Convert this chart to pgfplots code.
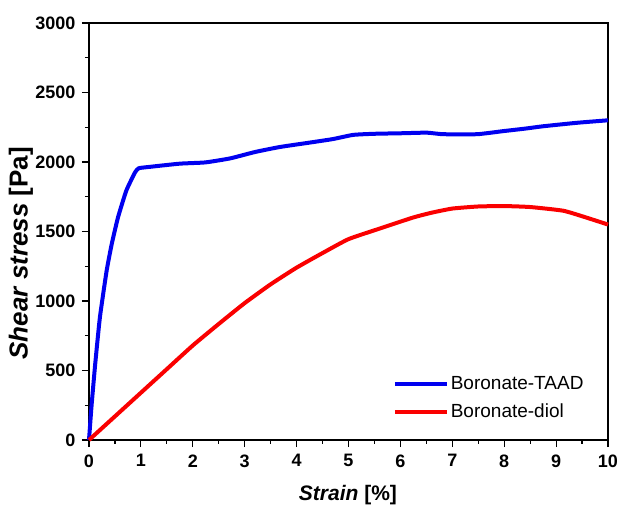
\documentclass[border=0pt]{standalone}
\usepackage{fontspec}
\setmainfont{Liberation Sans}
\usepackage{pgfplots}
\pgfplotsset{compat=1.18}
\definecolor{myblue}{RGB}{0,0,240}
\definecolor{myred}{RGB}{250,0,0}
\begin{document}
\begin{tikzpicture}
\path[use as bounding box] (-89pt,-66pt) rectangle (530pt,440pt);
\begin{axis}[
  scale only axis,
  width=519pt, height=417pt,
  xmin=0, xmax=10, ymin=0, ymax=3000,
  xtick={0,1,...,10}, ytick={0,500,...,3000},
  minor x tick num=1, minor y tick num=1,
  tick pos=left, tick align=outside,
  major tick length=7pt, minor tick length=4pt,
  every tick/.style={line width=1.2pt, black},
  axis line style={line width=1.3pt},
  /pgf/number format/assume math mode=true,
  /pgf/number format/set thousands separator={},
  ticklabel style={font=\bfseries\fontsize{18}{21}\selectfont},
  xticklabel style={yshift=-4pt},
  yticklabel style={xshift=-3pt},
  xlabel={\textbf{\textit{Strain} [\%]}},
  ylabel={\textbf{\textit{Shear stress} [Pa]}},
  xlabel style={font=\fontsize{21}{24}\selectfont, at={(rel axis cs:0.499,0)}, anchor=center, yshift=-55pt},
  ylabel style={font=\fontsize{26}{30}\selectfont, at={(rel axis cs:0,0.448)}, anchor=center, yshift=68pt},
  legend style={at={(0.585,0.158)}, anchor=north west, draw=none, fill=none,
    font=\fontsize{19}{22}\selectfont, inner sep=0pt, row sep=9pt},
  legend cell align=left,
  legend image code/.code={\draw[#1, line width=4pt] (0pt,0pt) -- (52pt,0pt);},
  clip=false,
]
\addplot[myblue, line width=4pt, smooth, tension=0.3] coordinates {
(0,0) (0.05,250) (0.12,548) (0.21,882) (0.34,1218) (0.44,1413) (0.56,1603)
(0.72,1795) (0.89,1927) (0.96,1955) (1.12,1963) (1.75,1988) (2.24,1997)
(2.72,2026) (3.2,2072) (3.68,2108) (4.26,2140) (4.7,2165) (5.09,2195)
(5.5,2203) (6.05,2207) (6.51,2211) (6.82,2200) (7.48,2200) (7.98,2222)
(8.4,2240) (8.75,2257) (9.40,2282) (10,2300)
};
\addlegendentry{Boronate-TAAD}
\addplot[myred, line width=4pt, smooth, tension=0.3] coordinates {
(0,0) (0.5,170) (1,340) (1.5,510) (2,680) (2.5,835) (3,985) (3.5,1120)
(4,1240) (4.5,1345) (5,1445) (5.6,1521) (6.24,1600) (6.6,1635) (7,1665)
(7.5,1680) (8,1683) (8.5,1676) (9.13,1650) (9.5,1610) (10,1550)
};
\addlegendentry{Boronate-diol}
\end{axis}
\end{tikzpicture}
\end{document}
